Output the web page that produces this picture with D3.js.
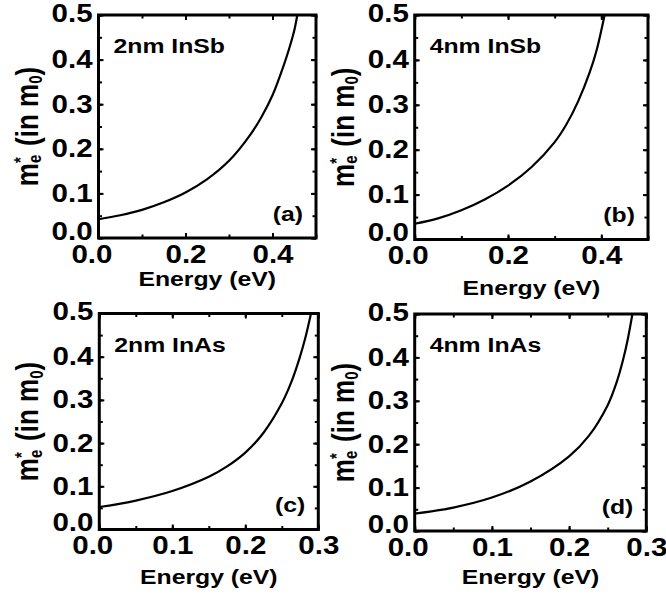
<!DOCTYPE html>
<html>
<head>
<meta charset="utf-8">
<script src="https://cdn.jsdelivr.net/npm/d3@7"></script>
<style>
body { margin: 0; background: #fff; }
svg text { font-family: "Liberation Sans", Arial, sans-serif; font-weight: bold; fill: #000; }
</style>
</head>
<body>
<svg id="fig" width="666" height="601"></svg>
<script>
// values, one pair of arrays per panel
// (a) 2nm InSb
var energyA = [0, 0.05, 0.1, 0.15, 0.2, 0.25, 0.3, 0.35, 0.375, 0.4, 0.425, 0.44, 0.45, 0.457];
var massA   = [0.042, 0.051, 0.063, 0.080, 0.102, 0.132, 0.173, 0.233, 0.272, 0.320, 0.385, 0.430, 0.465, 0.5];
// (b) 4nm InSb
var energyB = [0, 0.05, 0.1, 0.15, 0.2, 0.25, 0.3, 0.325, 0.35, 0.375, 0.39, 0.407];
var massB   = [0.035, 0.047, 0.065, 0.089, 0.120, 0.161, 0.217, 0.256, 0.307, 0.372, 0.422, 0.5];
// (c) 2nm InAs
var energyC = [0, 0.05, 0.1, 0.15, 0.175, 0.2, 0.225, 0.25, 0.263, 0.274, 0.282, 0.29];
var massC   = [0.052, 0.067, 0.089, 0.122, 0.146, 0.178, 0.224, 0.292, 0.341, 0.395, 0.442, 0.5];
// (d) 4nm InAs
var energyD = [0, 0.05, 0.1, 0.15, 0.2, 0.225, 0.25, 0.262, 0.27, 0.276, 0.282];
var massD   = [0.040, 0.054, 0.077, 0.114, 0.172, 0.218, 0.290, 0.345, 0.395, 0.442, 0.5];

var panelNames = ["2nm InSb", "4nm InSb", "2nm InAs", "4nm InAs"];
var panelTags = ["(a)", "(b)", "(c)", "(d)"];
var xMaxes = [0.5, 0.5, 0.3, 0.3];
var xTickLabels = [[0, 0.2, 0.4], [0, 0.2, 0.4], [0, 0.1, 0.2, 0.3], [0, 0.1, 0.2, 0.3]];
var xMinorSteps = [0.1, 0.1, 0.05, 0.05];
var yTickLabels = [0, 0.1, 0.2, 0.3, 0.4, 0.5];
var yMinorStep = 0.05;
var yMax = 0.5;
var xTitle = "Energy (eV)";

var energies = [energyA, energyB, energyC, energyD];
var masses = [massA, massB, massC, massD];

// where each frame sits on the page
var boxes = [
    {x0: 98.5, x1: 316, y0: 15, y1: 238, titleY: 286},
    {x0: 414.7, x1: 648, y0: 15, y1: 239.5, titleY: 295},
    {x0: 99.3, x1: 318.3, y0: 313.5, y1: 529.5, titleY: 584},
    {x0: 414.7, x1: 646.3, y0: 314, y1: 531, titleY: 584}
];

var stretch = 1.18;   // the lettering in the original is a bit wide
var svg = d3.select("#fig");

function styleAxis(g) {
    g.select(".domain").remove();
    g.attr("font-family", null).attr("font-size", null);
    g.selectAll(".tick line").attr("stroke", "#000").attr("stroke-width", 2);
    g.selectAll("text").attr("fill", "#000");
}

panelNames.forEach(function (name, i) {
    var b = boxes[i];
    var x = d3.scaleLinear().domain([0, xMaxes[i]]).range([b.x0, b.x1]);
    var y = d3.scaleLinear().domain([0, yMax]).range([b.y1, b.y0]);
    var g = svg.append("g");

    var xMinor = d3.range(0, xMaxes[i] + 1e-9, xMinorSteps[i]);
    var yMinor = d3.range(0, yMax + 1e-9, yMinorStep);

    // minor ticks on all four sides
    g.append("g").attr("transform", "translate(0," + b.y1 + ")")
        .call(d3.axisBottom(x).tickValues(xMinor).tickSize(-3.5).tickFormat(""))
        .call(styleAxis);
    g.append("g").attr("transform", "translate(0," + b.y0 + ")")
        .call(d3.axisTop(x).tickValues(xMinor).tickSize(-3.5).tickFormat(""))
        .call(styleAxis);
    g.append("g").attr("transform", "translate(" + b.x0 + ",0)")
        .call(d3.axisLeft(y).tickValues(yMinor).tickSize(-3.5).tickFormat(""))
        .call(styleAxis);
    g.append("g").attr("transform", "translate(" + b.x1 + ",0)")
        .call(d3.axisRight(y).tickValues(yMinor).tickSize(-3.5).tickFormat(""))
        .call(styleAxis);

    // major ticks with labels
    var xb = g.append("g").attr("transform", "translate(0," + b.y1 + ")")
        .call(d3.axisBottom(x).tickValues(xTickLabels[i]).tickSize(-5).tickPadding(7).tickFormat(d3.format(".1f")))
        .call(styleAxis);
    xb.selectAll("text")
        .attr("font-size", 25)
        .attr("dx", function (d) { return d === 0 ? -6 : 0; })
        .attr("transform", "scale(" + stretch + ",1)");

    var yl = g.append("g").attr("transform", "translate(" + b.x0 + ",0)")
        .call(d3.axisLeft(y).tickValues(yTickLabels).tickSize(-5).tickPadding(5).tickFormat(d3.format(".1f")))
        .call(styleAxis);
    yl.selectAll("text")
        .attr("font-size", 25)
        .attr("y", function (d) { return d === 0 ? -7 : (d === yMax ? -2 : 0); })
        .attr("transform", "scale(" + stretch + ",1)");

    g.append("g").attr("transform", "translate(" + b.x1 + ",0)")
        .call(d3.axisRight(y).tickValues(yTickLabels).tickSize(-5).tickFormat(""))
        .call(styleAxis);
    g.append("g").attr("transform", "translate(0," + b.y0 + ")")
        .call(d3.axisTop(x).tickValues(xTickLabels[i]).tickSize(-5).tickFormat(""))
        .call(styleAxis);

    // the curve
    var clipId = "clip" + i;
    g.append("clipPath").attr("id", clipId)
        .append("rect")
        .attr("x", b.x0).attr("y", b.y0)
        .attr("width", b.x1 - b.x0).attr("height", b.y1 - b.y0);

    var pts = energies[i].map(function (e, k) { return [e, masses[i][k]]; });
    var line = d3.line()
        .x(function (d) { return x(d[0]); })
        .y(function (d) { return y(d[1]); })
        .curve(d3.curveCatmullRom.alpha(0.5));

    g.append("path")
        .datum(pts)
        .attr("clip-path", "url(#" + clipId + ")")
        .attr("fill", "none")
        .attr("stroke", "#000")
        .attr("stroke-width", 2.2)
        .attr("d", line);

    // frame
    g.append("rect")
        .attr("x", b.x0).attr("y", b.y0)
        .attr("width", b.x1 - b.x0).attr("height", b.y1 - b.y0)
        .attr("fill", "none")
        .attr("stroke", "#000")
        .attr("stroke-width", 3);

    // sample name and panel letter
    g.append("text")
        .attr("transform", "translate(" + (b.x0 + 15) + "," + (b.y0 + 38) + ") scale(" + stretch + ",1)")
        .attr("font-size", 21)
        .text(name);
    g.append("text")
        .attr("transform", "translate(" + (b.x1 - 13) + "," + (b.y1 - 17.5) + ") scale(" + stretch + ",1)")
        .attr("text-anchor", "end")
        .attr("font-size", 21)
        .text(panelTags[i]);

    // axis titles
    g.append("text")
        .attr("transform", "translate(" + ((b.x0 + b.x1) / 2) + "," + b.titleY + ") scale(" + stretch + ",1)")
        .attr("text-anchor", "middle")
        .attr("font-size", 21)
        .text(xTitle);

    var yt = g.append("text")
        .attr("transform", "translate(" + (b.x0 - 61) + "," + ((b.y0 + b.y1) / 2) + ") rotate(-90) scale(1," + stretch + ")")
        .attr("text-anchor", "middle")
        .attr("font-size", 26);
    yt.append("tspan").text("m");
    yt.append("tspan").attr("font-size", 15).attr("dy", 3).text("e");
    yt.append("tspan").attr("font-size", 15).attr("dx", -8.3).attr("dy", -12).text("*");
    yt.append("tspan").attr("dx", 4).attr("dy", 9).text(" (in m");
    yt.append("tspan").attr("font-size", 15).attr("dy", 4).text("0");
    yt.append("tspan").attr("dy", -4).text(")");
});
</script>
</body>
</html>
